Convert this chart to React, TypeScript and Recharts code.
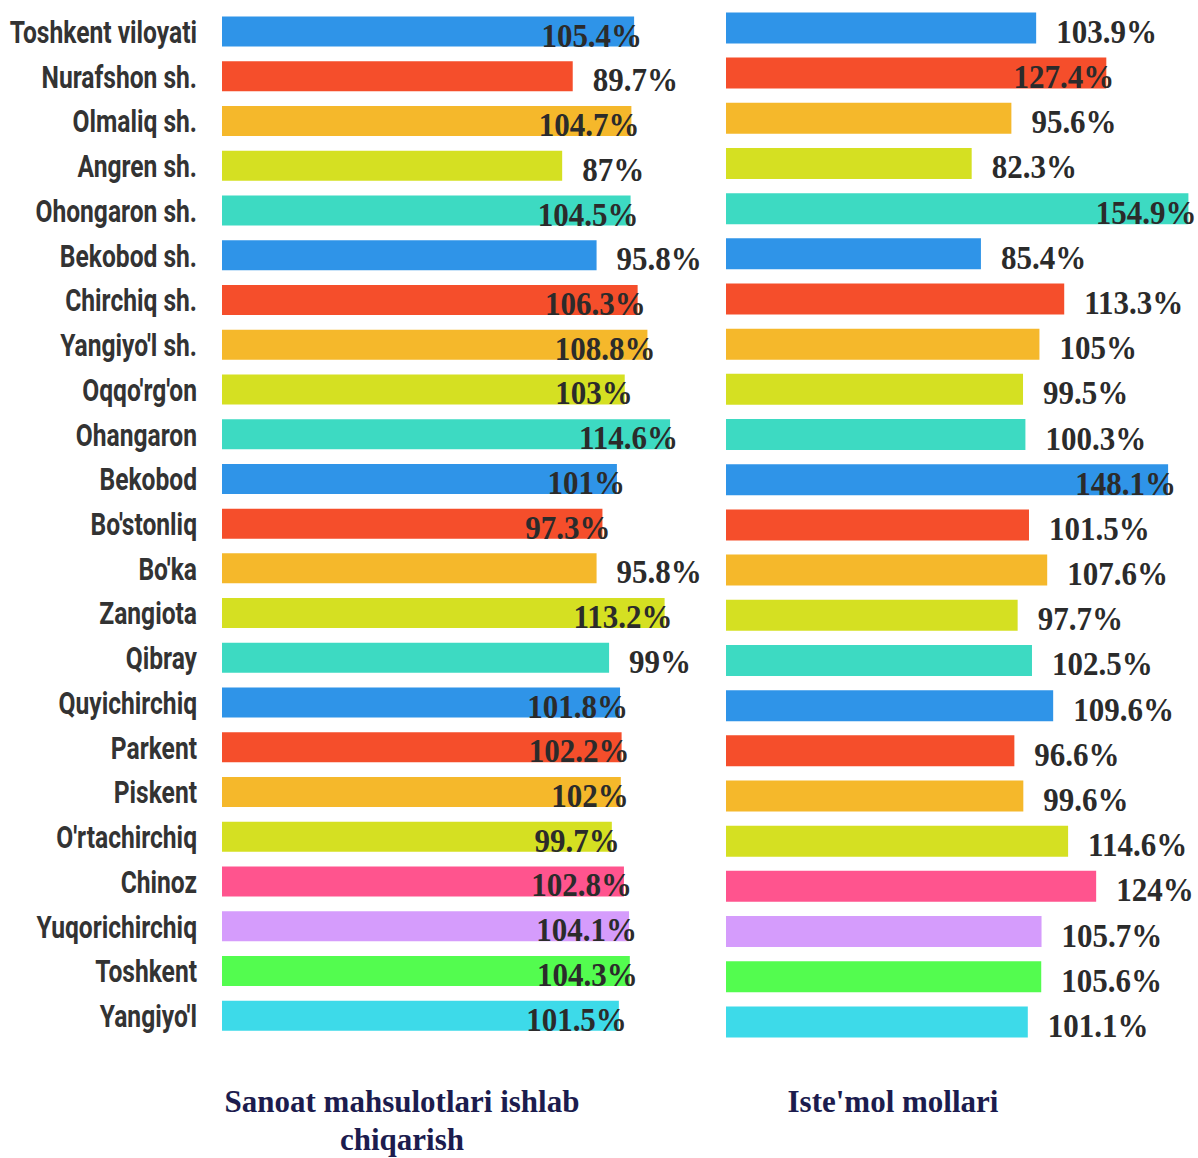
import React from "react";
import { BarChart, Bar, XAxis, YAxis, Cell, LabelList } from "recharts";

const categories = [
  "Toshkent viloyati", "Nurafshon sh.", "Olmaliq sh.", "Angren sh.", "Ohongaron sh.",
  "Bekobod sh.", "Chirchiq sh.", "Yangiyo'l sh.", "Oqqo'rg'on", "Ohangaron",
  "Bekobod", "Bo'stonliq", "Bo'ka", "Zangiota", "Qibray", "Quyichirchiq",
  "Parkent", "Piskent", "O'rtachirchiq", "Chinoz", "Yuqorichirchiq", "Toshkent", "Yangiyo'l",
];

const sanoatValues = [
  105.4, 89.7, 104.7, 87, 104.5, 95.8, 106.3, 108.8, 103, 114.6, 101, 97.3,
  95.8, 113.2, 99, 101.8, 102.2, 102, 99.7, 102.8, 104.1, 104.3, 101.5,
];

const istemolValues = [
  103.9, 127.4, 95.6, 82.3, 154.9, 85.4, 113.3, 105, 99.5, 100.3, 148.1, 101.5,
  107.6, 97.7, 102.5, 109.6, 96.6, 99.6, 114.6, 124, 105.7, 105.6, 101.1,
];

const titles = ["Sanoat mahsulotlari ishlab chiqarish", "Iste'mol mollari"];

// style config: label placement (inside bar end or outside), per row
const sanoatLabelInside = [
  true, false, true, false, true, false, true, true, true, true, true, true,
  false, true, false, true, true, true, true, true, true, true, true,
];
const istemolLabelInside = [
  false, true, false, false, true, false, false, false, false, false, true, false,
  false, false, false, false, false, false, false, false, false, false, false,
];

const BLUE = "#2f94e8";
const RED = "#f54e2b";
const ORANGE = "#f5b82b";
const YG = "#d5e022";
const TEAL = "#3ddac2";
const rowColors = [
  BLUE, RED, ORANGE, YG, TEAL, BLUE, RED, ORANGE, YG, TEAL, BLUE, RED, ORANGE, YG, TEAL,
  BLUE, RED, ORANGE, YG, "#ff548e", "#d59cfc", "#53fc4f", "#3ddae9",
];

const sanoatData = categories.map((c, i) => ({ name: c, v: sanoatValues[i] }));
const istemolData = categories.map((c, i) => ({ name: c, v: istemolValues[i] }));

const CatTick = (props: any) => {
  const { x, y, payload } = props;
  return (
    <text
      transform={`translate(${x},${y + 11}) scale(0.82,1.04)`}
      textAnchor="end"
      fontFamily="Roboto"
      fontWeight={700}
      fontSize={30}
      fill="#333333"
    >
      {payload.value}
    </text>
  );
};

const makeLabel = (inside: boolean[]) => (p: any) => {
  const { x, y, width, height, value, index } = p;
  const end = x + width;
  const isIn = inside[index];
  const tx = isIn ? end + 8 : end + 20;
  const ty = y + height / 2 + 15;
  return (
    <text
      transform={`translate(${tx},${ty}) scale(1,1.06)`}
      textAnchor={isIn ? "end" : "start"}
      fontFamily="Liberation Serif"
      fontWeight={700}
      fontSize={31}
      fill="#2b2b2b"
    >
      {`${value}%`}
    </text>
  );
};

const titleStyle: React.CSSProperties = {
  position: "absolute",
  textAlign: "center",
  fontFamily: "Liberation Serif",
  fontWeight: 700,
  fontSize: 31,
  lineHeight: "38px",
  color: "#1c1c4e",
};

export default function App() {
  return (
    <div style={{ position: "absolute", left: 0, top: 0, width: 1198, height: 1158, background: "#fff" }}>
      <div style={{ position: "absolute", left: 0, top: 0 }}>
        <BarChart
          width={720}
          height={1050}
          data={sanoatData}
          layout="vertical"
          margin={{ top: 9.6, bottom: 11.6, left: 0, right: 28.8 }}
        >
          <XAxis type="number" domain={[0, 120]} hide />
          <YAxis
            type="category"
            dataKey="name"
            width={222}
            axisLine={false}
            tickLine={false}
            tickSize={0}
            tickMargin={25}
            tick={<CatTick />}
            interval={0}
          />
          <Bar dataKey="v" barSize={30} isAnimationActive={false}>
            {sanoatData.map((d, i) => (
              <Cell key={d.name + i} fill={rowColors[i]} />
            ))}
            <LabelList dataKey="v" content={makeLabel(sanoatLabelInside)} />
          </Bar>
        </BarChart>
      </div>
      <div style={{ position: "absolute", left: 700, top: 0 }}>
        <BarChart
          width={498}
          height={1050}
          data={istemolData}
          layout="vertical"
          margin={{ top: 5.4, bottom: 5.4, left: 26, right: 9.3 }}
        >
          <XAxis type="number" domain={[0, 155]} hide />
          <YAxis type="category" dataKey="name" hide />
          <Bar dataKey="v" barSize={31} isAnimationActive={false}>
            {istemolData.map((d, i) => (
              <Cell key={d.name + i} fill={rowColors[i]} />
            ))}
            <LabelList dataKey="v" content={makeLabel(istemolLabelInside)} />
          </Bar>
        </BarChart>
      </div>
      <div style={{ ...titleStyle, left: 200, top: 1083, width: 404 }}>{titles[0]}</div>
      <div style={{ ...titleStyle, left: 743, top: 1083, width: 300 }}>{titles[1]}</div>
    </div>
  );
}
